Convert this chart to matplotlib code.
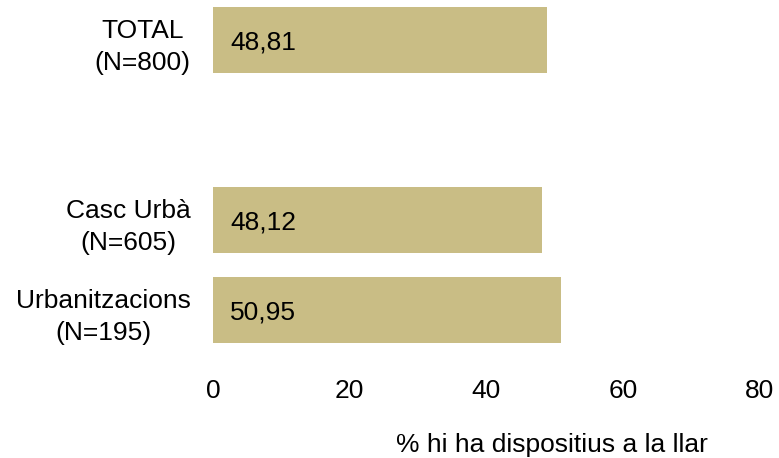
import matplotlib.pyplot as plt

plt.rcParams['font.family'] = ['Liberation Sans', 'DejaVu Sans']

# dades
categories = ['TOTAL\n(N=800)', '', 'Casc Urbà\n(N=605)', 'Urbanitzacions\n(N=195)']
values = [48.81, None, 48.12, 50.95]
xticks = [0, 20, 40, 60, 80]

fig = plt.figure(figsize=(7.79, 4.58), dpi=100)
ax = fig.add_axes([213 / 779, 1 - 355 / 458, 547 / 779, 355 / 458])

pos = [i for i, v in enumerate(values) if v is not None]
vals = [v for v in values if v is not None]
ax.barh(pos, vals, height=0.73, color='#C9BD85')

for p, v in zip(pos, vals):
    ax.text(2.5, p + 0.03, f'{v:.2f}'.replace('.', ','), va='center', ha='left',
            fontsize=19, color='black')

ax.set_xlim(0, 80)
ax.set_ylim(3.5, -0.445)
ax.set_xticks(xticks)
ax.set_yticks(range(len(categories)))
ax.set_yticklabels(categories, multialignment='center', linespacing=1.45)
ax.tick_params(axis='both', length=0, labelsize=19)
ax.tick_params(axis='x', pad=17)
ax.tick_params(axis='y', pad=16)
for s in ax.spines.values():
    s.set_visible(False)

fig.text(552 / 779, 1 - 445 / 458, '% hi ha dispositius a la llar', fontsize=19,
         ha='center', va='center')

fig.savefig('out.png', dpi=100)
